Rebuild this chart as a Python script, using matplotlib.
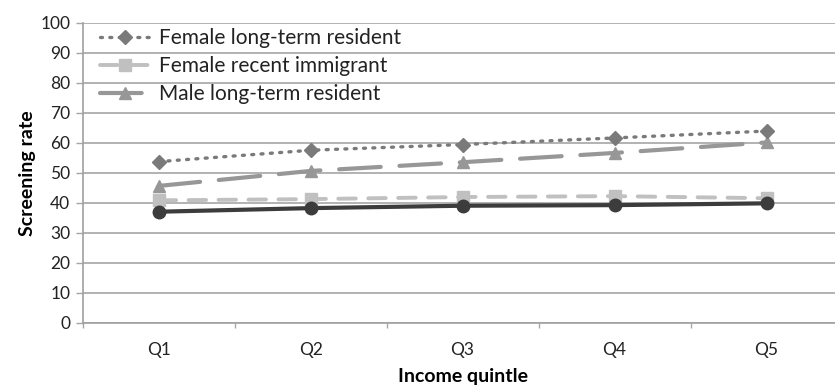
import matplotlib
matplotlib.use("Agg")
import matplotlib.pyplot as plt

# screening rates by income quintile
quintiles = ["Q1", "Q2", "Q3", "Q4", "Q5"]
female_long_term = [53.7, 57.5, 59.4, 61.6, 63.9]
female_recent = [40.8, 41.2, 41.9, 42.2, 41.5]
male_long_term = [45.6, 50.6, 53.5, 56.6, 60.1]
male_recent = [37.0, 38.2, 39.0, 39.2, 39.8]

plt.rcParams["font.family"] = ["Lato", "DejaVu Sans"]

fig = plt.figure(figsize=(8.35, 3.86), dpi=100)
ax = fig.add_axes([0.099, 0.164, 0.91, 0.777])

x = range(len(quintiles))

ax.plot(x, female_long_term, color="#7a7a7a", linestyle=(0, (0.6, 2.2)), dash_capstyle="round",
        linewidth=2.4, marker="D", markersize=7, label="Female long-term resident", zorder=4)
ax.plot(x, female_recent, color="#c0c0c0", linestyle=(0, (4.5, 3.2)), dash_capstyle="round",
        linewidth=2.8, marker="s", markersize=8, label="Female recent immigrant", zorder=3)
ax.plot(x, male_long_term, color="#979797", linestyle=(0, (10, 4.5)), dash_capstyle="round",
        linewidth=3.0, marker="^", markersize=9, label="Male long-term resident", zorder=3)
ax.plot(x, male_recent, color="#3c3c3c", linestyle="-", linewidth=3.0,
        marker="o", markersize=9, label="Male recent immigrant", zorder=4)

ax.set_ylim(0, 100)
ax.set_xlim(-0.5, 4.5)
ax.set_yticks(range(0, 101, 10))
ax.yaxis.grid(True, color="#a6a6a6", linewidth=1.2)
ax.set_axisbelow(True)

# category boundaries as major ticks, labels in the middle
ax.set_xticks([i - 0.5 for i in range(len(quintiles) + 1)])
ax.set_xticklabels([])
ax.set_xticks(list(x), minor=True)
ax.set_xticklabels(quintiles, minor=True)
ax.tick_params(axis="x", which="major", length=3.6, color="#a6a6a6", width=1)
ax.tick_params(axis="x", which="minor", length=0, pad=14, labelsize=12.5, labelcolor="#222222")
ax.tick_params(axis="y", length=5, pad=4, color="#a6a6a6", width=1, labelsize=12.5, labelcolor="#222222")

for side in ["top", "right"]:
    ax.spines[side].set_visible(False)
ax.spines["left"].set_color("#a0a0a0")
ax.spines["left"].set_linewidth(1.2)
ax.spines["bottom"].set_color("#a0a0a0")
ax.spines["bottom"].set_linewidth(1.2)

ax.set_ylabel("Screening rate", fontsize=14, fontweight="bold", labelpad=3)
ax.set_xlabel("Income quintle", fontsize=14, fontweight="bold", labelpad=7)

handles, labels = ax.get_legend_handles_labels()
ax.legend(handles[:3], labels[:3], loc="upper left", bbox_to_anchor=(0.012, 1.01),
          frameon=False, fontsize=15, handlelength=2.4, handletextpad=0.45,
          labelspacing=0.38, borderaxespad=0, labelcolor="#222222")

fig.savefig("out.png", dpi=100)
